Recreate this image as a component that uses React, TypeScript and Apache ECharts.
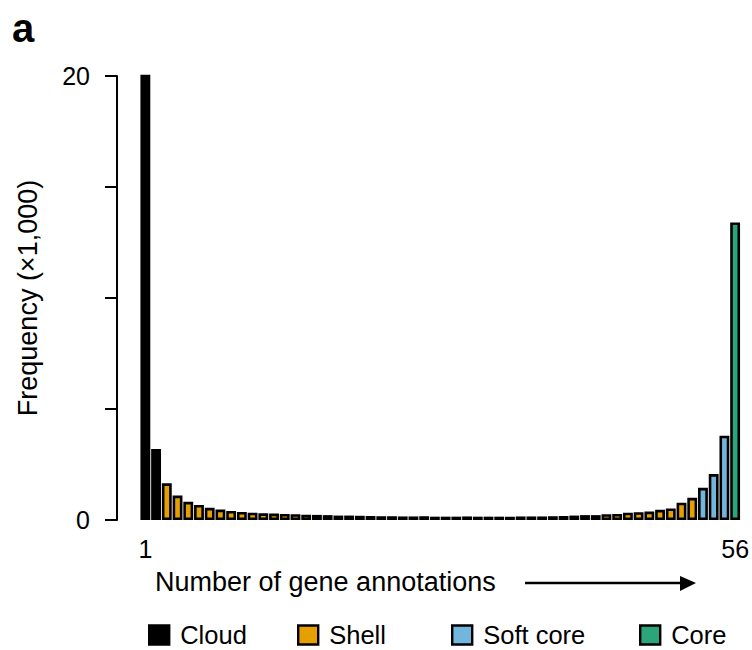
import React, { useEffect, useRef } from "react";
import * as echarts from "echarts";

// Number of gene annotations (x categories)
const categories = [
  "1", "2", "3", "4", "5", "6", "7", "8", "9", "10",
  "11", "12", "13", "14", "15", "16", "17", "18", "19", "20",
  "21", "22", "23", "24", "25", "26", "27", "28", "29", "30",
  "31", "32", "33", "34", "35", "36", "37", "38", "39", "40",
  "41", "42", "43", "44", "45", "46", "47", "48", "49", "50",
  "51", "52", "53", "54", "55", "56",
];

// Frequency (x1,000) per category
const frequency = [
  20.1, 3.2, 1.65, 1.1, 0.82, 0.68, 0.55, 0.47, 0.41, 0.36,
  0.33, 0.3, 0.29, 0.27, 0.26, 0.24, 0.23, 0.22, 0.2, 0.2,
  0.19, 0.18, 0.17, 0.17, 0.16, 0.16, 0.17, 0.15, 0.15, 0.15,
  0.16, 0.15, 0.15, 0.15, 0.15, 0.16, 0.16, 0.16, 0.17, 0.18,
  0.2, 0.22, 0.22, 0.26, 0.27, 0.33, 0.35, 0.38, 0.46, 0.52,
  0.78, 1.0, 1.45, 2.07, 3.8, 13.4,
];

const groupNames = ["Cloud", "Shell", "Soft core", "Core"];
const groupSizes = [2, 50, 3, 1];
const groupColors = ["#000000", "#E69F00", "#72B6DD", "#2DA57A"];
const legendLefts = [148, 297, 451, 639];

const yMin = 0;
const yMax = 20;
const yInterval = 5;
const yShownLabels = [0, 20];
const xShownLabels = ["1", "56"];

const FONT = "'Liberation Sans', Arial, Helvetica, sans-serif";

export default function App() {
  const ref = useRef<HTMLDivElement>(null);

  useEffect(() => {
    if (!ref.current) return;
    const chart = echarts.init(ref.current, undefined, { renderer: "svg" });

    let start = 0;
    const series = groupNames.map((name, gi) => {
      const end = start + groupSizes[gi];
      const data = frequency.map((v, i) => (i >= start && i < end ? v : null));
      start = end;
      return {
        name,
        type: "bar",
        data,
        barGap: "-100%",
        barCategoryGap: "8%",
        itemStyle: {
          color: groupColors[gi],
          borderColor: "#000000",
          borderWidth: 2.6,
        },
        emphasis: { disabled: true },
      };
    });

    const legends = groupNames.map((name, gi) => ({
      data: [name],
      left: legendLefts[gi],
      top: 622,
      padding: 0,
      itemWidth: 20,
      itemHeight: 19,
      icon: "rect",
      itemStyle: { borderColor: "#000000", borderWidth: 2.4 },
      textStyle: {
        fontFamily: FONT,
        fontSize: 25.5,
        lineHeight: 24,
        color: "#000000",
        padding: [0, 0, 0, 6],
      },
      selectedMode: false,
    }));

    chart.setOption({
      animation: false,
      backgroundColor: "#ffffff",
      grid: { left: 140, right: 8, top: 76, bottom: 130, containLabel: false },
      legend: legends,
      xAxis: {
        type: "category",
        data: categories,
        axisLine: { show: false },
        axisTick: { show: false },
        axisLabel: {
          interval: (_idx: number, val: string) => xShownLabels.includes(val),
          fontFamily: FONT,
          fontSize: 25,
          color: "#000000",
          margin: 16,
        },
      },
      yAxis: {
        type: "value",
        min: yMin,
        max: yMax,
        interval: yInterval,
        offset: 23,
        splitLine: { show: false },
        axisLine: { show: true, lineStyle: { color: "#000000", width: 2 } },
        axisTick: { show: true, length: 12, lineStyle: { color: "#000000", width: 2 } },
        axisLabel: {
          formatter: (v: number) => (yShownLabels.includes(v) ? String(v) : ""),
          fontFamily: FONT,
          fontSize: 25,
          color: "#000000",
          margin: 27,
        },
      },
      series,
      graphic: [
        {
          type: "text",
          left: 12,
          top: 8,
          style: {
            text: "a",
            font: `bold 40px ${FONT}`,
            fill: "#000000",
          },
        },
        {
          type: "text",
          x: 28,
          y: 298,
          rotation: Math.PI / 2,
          style: {
            text: "Frequency (\u00d71,000)",
            font: `27px ${FONT}`,
            fill: "#000000",
            align: "center",
            verticalAlign: "middle",
          },
        },
        {
          type: "text",
          x: 155,
          y: 582,
          style: {
            text: "Number of gene annotations",
            font: `27px ${FONT}`,
            fill: "#000000",
            align: "left",
            verticalAlign: "middle",
          },
        },
        {
          type: "line",
          shape: { x1: 525, y1: 583, x2: 684, y2: 583 },
          style: { stroke: "#000000", lineWidth: 2.5 },
        },
        {
          type: "polygon",
          shape: { points: [[680, 576], [696, 583], [680, 591]] },
          style: { fill: "#000000" },
        },
      ],
    });

    return () => chart.dispose();
  }, []);

  return (
    <div
      ref={ref}
      style={{ position: "absolute", left: 0, top: 0, width: 752, height: 650 }}
    />
  );
}
